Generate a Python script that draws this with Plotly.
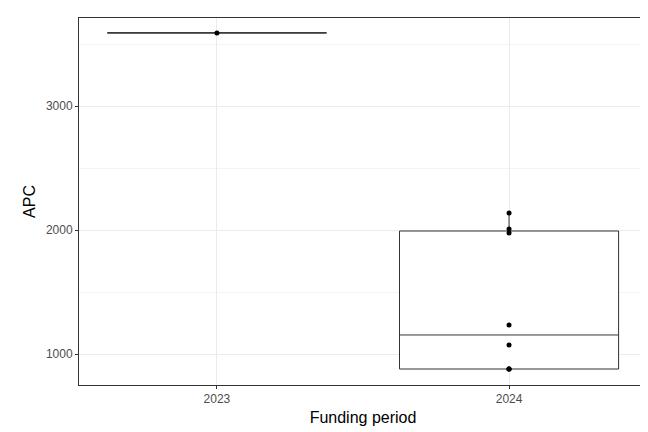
import plotly.graph_objects as go

periods_2023 = ["2023"]
apc_2023 = [3590]
periods_2024 = ["2024"] * 8
apc_2024 = [879, 879, 879, 1073, 1234, 1976, 2008, 2137]

fig = go.Figure()
for xs, ys in [(periods_2023, apc_2023), (periods_2024, apc_2024)]:
    fig.add_trace(go.Box(x=xs, y=ys, boxpoints="all", jitter=0, pointpos=0,
                         width=0.75, quartilemethod="linear", whiskerwidth=0,
                         fillcolor="white", line=dict(color="#333333", width=1),
                         marker=dict(color="black", size=5), showlegend=False))

fig.update_layout(
    width=648, height=432, plot_bgcolor="white", paper_bgcolor="white",
    margin=dict(l=71, r=9, t=10, b=55, autoexpand=False),
    font=dict(family="Liberation Sans", size=12, color="#4d4d4d"),
    xaxis=dict(title=dict(text="Funding period", font=dict(size=16, color="black"), standoff=6),
               automargin=False,
               showgrid=True, gridcolor="#ebebeb", showline=True, mirror=True,
               linecolor="#333333", ticks="outside", ticklen=3, tickcolor="#333333",
               type="category"),
    yaxis=dict(title=dict(text="APC", font=dict(size=16, color="black"), standoff=6),
               automargin=False,
               range=[750, 3710], tickvals=[1000, 2000, 3000],
               showgrid=True, gridcolor="#ebebeb", zeroline=False,
               minor=dict(tickvals=[1500, 2500, 3500], showgrid=True, gridcolor="#f4f4f4"),
               showline=True, mirror=True, linecolor="#333333",
               ticks="outside", ticklen=3, tickcolor="#333333"),
)
fig.write_html("out.html")
